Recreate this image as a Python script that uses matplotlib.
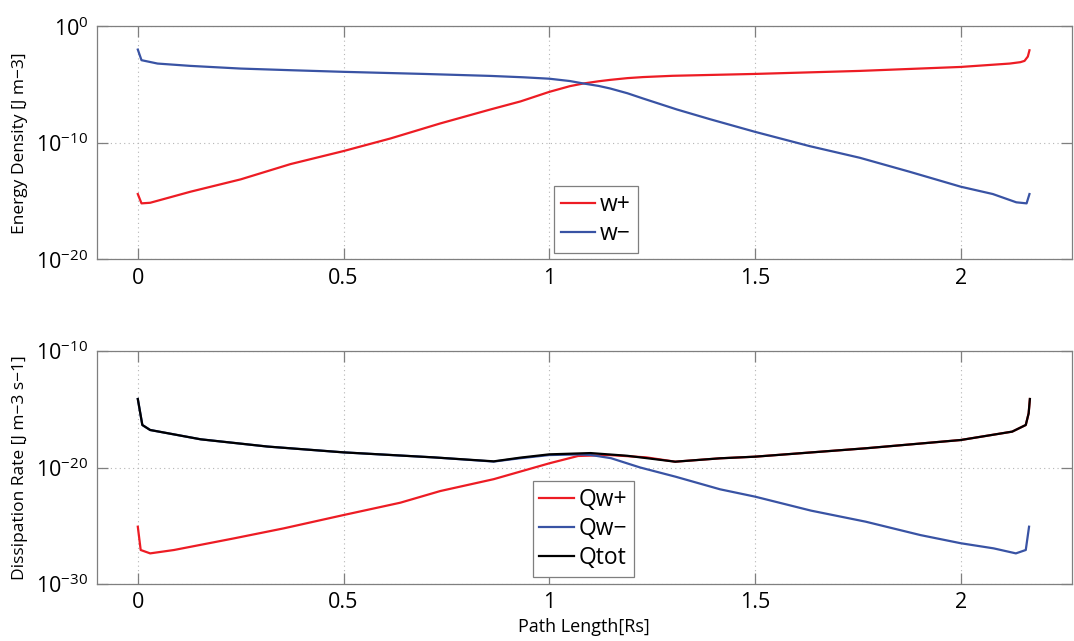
import numpy as np
import matplotlib
matplotlib.use("Agg")
import matplotlib.pyplot as plt
from matplotlib.ticker import FixedLocator, FixedFormatter, NullLocator

plt.rcParams["font.family"] = ["Open Sans", "DejaVu Sans"]
plt.rcParams["mathtext.fontset"] = "custom"
plt.rcParams["mathtext.rm"] = "Open Sans"
plt.rcParams["mathtext.it"] = "Open Sans:italic"
plt.rcParams["mathtext.bf"] = "Open Sans:bold"

# ---- Energy density along the path (log10 of J m^-3) ----
wp_s = [0.0, 0.009, 0.03, 0.128, 0.25, 0.371, 0.5, 0.614, 0.735, 0.857, 0.93, 1.0,
        1.05, 1.083, 1.12, 1.148, 1.19, 1.228, 1.3, 1.5, 1.755, 2.0, 2.119, 2.145,
        2.155, 2.163, 2.167]
wp_log = [-14.4, -15.2, -15.15, -14.2, -13.14, -11.83, -10.71, -9.63, -8.34, -7.14, -6.45, -5.63,
          -5.14, -4.91, -4.72, -4.6, -4.45, -4.36, -4.25, -4.09, -3.83, -3.49, -3.2, -3.08,
          -2.97, -2.6, -2.06]

wm_s = [0.0, 0.009, 0.048, 0.128, 0.25, 0.371, 0.5, 0.695, 0.857, 0.938, 1.0,
        1.05, 1.083, 1.12, 1.148, 1.19, 1.228, 1.31, 1.39, 1.5, 1.633, 1.755, 1.876, 2.0,
        2.078, 2.135, 2.16, 2.167]
wm_log = [-2.0, -2.91, -3.2, -3.4, -3.63, -3.77, -3.91, -4.09, -4.26, -4.38, -4.5,
          -4.7, -4.91, -5.12, -5.34, -5.75, -6.2, -7.14, -7.97, -9.06, -10.29, -11.29, -12.49, -13.77,
          -14.4, -15.11, -15.2, -14.4]

# ---- Dissipation rates along the path (log10 of J m^-3 s^-1) ----
qp_s = [0.0, 0.007, 0.03, 0.088, 0.234, 0.355, 0.5, 0.638, 0.735, 0.865, 1.0,
        1.07, 1.147, 1.236, 1.306, 1.415, 1.5, 1.769, 2.0, 2.125, 2.158, 2.165, 2.168]
qp_log = [-25.08, -27.08, -27.37, -27.08, -26.08, -25.22, -24.08, -23.02, -22.02, -21.0, -19.64,
          -19.01, -18.93, -19.13, -19.5, -19.21, -19.07, -18.35, -17.64, -16.92, -16.35, -15.35, -14.12]

qm_s = [0.0, 0.011, 0.03, 0.153, 0.315, 0.5, 0.719, 0.865, 0.93, 1.0, 1.07, 1.1,
        1.15, 1.221, 1.307, 1.415, 1.5, 1.636, 1.769, 1.902, 2.0, 2.08, 2.134, 2.158, 2.166]
qm_log = [-14.12, -16.35, -16.78, -17.58, -18.2, -18.7, -19.13, -19.49, -19.2, -18.93, -18.88, -18.92,
          -19.2, -20.0, -20.79, -21.87, -22.5, -23.7, -24.65, -25.8, -26.5, -26.94, -27.37, -27.08, -25.08]

qt_s = [0.0, 0.011, 0.03, 0.153, 0.315, 0.5, 0.719, 0.865, 0.93, 1.0, 1.1, 1.189,
        1.306, 1.415, 1.5, 1.769, 2.0, 2.125, 2.158, 2.165, 2.168]
qt_log = [-14.12, -16.35, -16.78, -17.58, -18.2, -18.7, -19.13, -19.47, -19.15, -18.87, -18.76, -18.99,
          -19.5, -19.21, -19.07, -18.35, -17.64, -16.92, -16.35, -15.35, -14.12]

x_ticks = [0, 0.5, 1, 1.5, 2]
x_tick_labels = ["0", "0.5", "1", "1.5", "2"]
top_yticks = [1e-20, 1e-10, 1e0]
top_ytick_labels = [r"$\mathregular{10^{-20}}$", r"$\mathregular{10^{-10}}$", r"$\mathregular{10^{0}}$"]
bot_yticks = [1e-30, 1e-20, 1e-10]
bot_ytick_labels = [r"$\mathregular{10^{-30}}$", r"$\mathregular{10^{-20}}$", r"$\mathregular{10^{-10}}$"]

RED = "#ed1c24"
BLUE = "#3953a4"
BLACK = "#000000"
SPINE = "#7f7f7f"

fig = plt.figure(figsize=(10.74, 6.41), dpi=100)
ax1 = fig.add_axes([0.090, 0.5955, 0.908, 0.3635])
ax2 = fig.add_axes([0.090, 0.0889, 0.908, 0.3635])


def style_axes(ax, yticks, ylabels, ylim):
    ax.set_yscale("log")
    ax.set_xlim(-0.1, 2.27)
    ax.set_ylim(*ylim)
    ax.xaxis.set_major_locator(FixedLocator(x_ticks))
    ax.xaxis.set_major_formatter(FixedFormatter(x_tick_labels))
    ax.yaxis.set_major_locator(FixedLocator(yticks))
    ax.yaxis.set_major_formatter(FixedFormatter(ylabels))
    ax.yaxis.set_minor_locator(NullLocator())
    ax.xaxis.set_minor_locator(NullLocator())
    ax.tick_params(which="both", direction="in", top=True, right=True,
                   length=8, width=0.9, color=SPINE, labelsize=15.5, pad=6)
    for sp in ax.spines.values():
        sp.set_color(SPINE)
        sp.set_linewidth(0.9)
    ax.grid(True, which="major", color="#b5b5b5", linestyle=(0, (1, 3)), linewidth=0.8)
    ax.set_axisbelow(True)


def add_legend(ax, anchor, spacing):
    leg = ax.legend(loc="lower left", bbox_to_anchor=anchor, borderaxespad=0,
                    fontsize=16.5, fancybox=False, framealpha=1, edgecolor=SPINE,
                    handlelength=1.5, handletextpad=0.2, labelspacing=spacing,
                    borderpad=0.3)
    leg.get_frame().set_linewidth(0.9)
    return leg


style_axes(ax1, top_yticks, top_ytick_labels, (1e-20, 1e0))
ax1.plot(wp_s, 10.0 ** np.array(wp_log), color=RED, lw=1.6, label="w+")
ax1.plot(wm_s, 10.0 ** np.array(wm_log), color=BLUE, lw=1.6, label="w\u2212")
ax1.set_ylabel("Energy Density [J m\u22123]", fontsize=12.5, labelpad=6)
add_legend(ax1, (0.469, 0.026), 0.25)

style_axes(ax2, bot_yticks, bot_ytick_labels, (1e-30, 1e-10))
ax2.plot(qp_s, 10.0 ** np.array(qp_log), color=RED, lw=1.6, label="Qw+")
ax2.plot(qm_s, 10.0 ** np.array(qm_log), color=BLUE, lw=1.6, label="Qw\u2212")
ax2.plot(qt_s, 10.0 ** np.array(qt_log), color=BLACK, lw=1.6, label="Qtot")
ax2.set_ylabel("Dissipation Rate [J m\u22123 s\u22121]", fontsize=12.5, labelpad=6)
ax2.set_xlabel("Path Length[Rs]", fontsize=13, labelpad=3)
add_legend(ax2, (0.447, 0.029), 0.22)

fig.savefig("out.png", dpi=100)
